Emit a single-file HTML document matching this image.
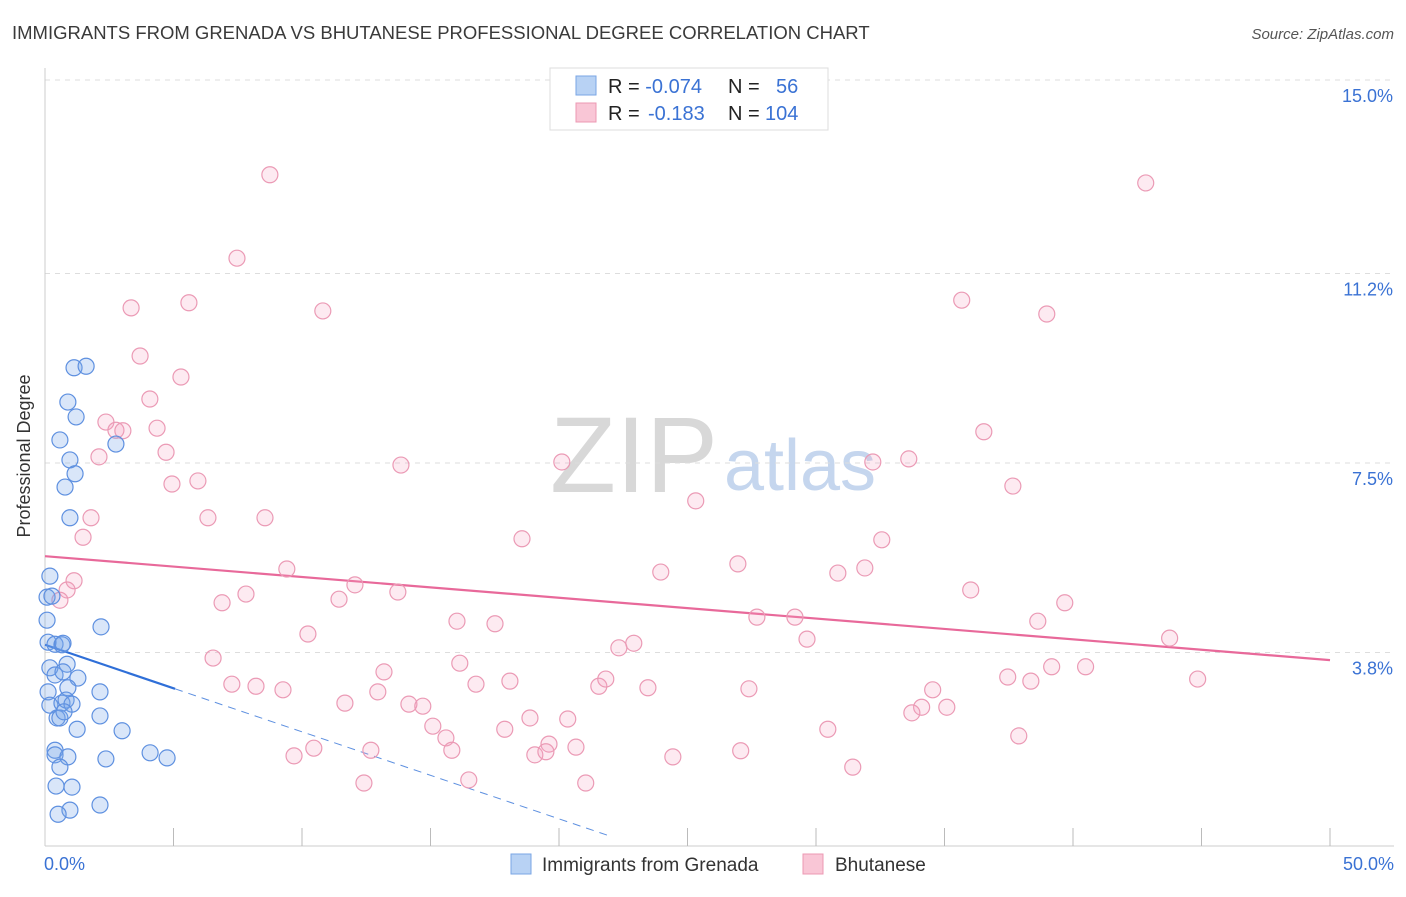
<!DOCTYPE html>
<html><head><meta charset="utf-8"><style>
body{margin:0;background:#fff;font-family:"Liberation Sans",sans-serif;}
svg text{font-family:"Liberation Sans",sans-serif;}
</style></head><body>
<svg id="chart" width="1406" height="892" viewBox="0 0 1406 892">
<text x="12" y="39" font-size="18.5" fill="#3a3a3a">IMMIGRANTS FROM GRENADA VS BHUTANESE PROFESSIONAL DEGREE CORRELATION CHART</text>
<text x="1394" y="39" font-size="15" fill="#555" font-style="italic" text-anchor="end">Source: ZipAtlas.com</text>
<text x="30" y="456" font-size="18" fill="#333" text-anchor="middle" transform="rotate(-90 30 456)">Professional Degree</text>
<text x="634" y="492" font-size="108" fill="#d8d8d8" font-family="Liberation Serif" text-anchor="middle">ZIP</text>
<text x="800" y="490" font-size="72" fill="#c5d6ee" text-anchor="middle">atlas</text>
<g id="grid"></g><g id="axes"></g><g id="lines"></g><g id="pts"></g>
<g>
<rect x="550" y="68" width="278" height="62" fill="#fff" stroke="#ddd"/>
<rect x="576" y="76" width="20" height="19" fill="#b8d2f4" stroke="#7aa6e4"/>
<rect x="576" y="103" width="20" height="19" fill="#f9c6d6" stroke="#ec98b3"/>
<text x="608" y="93" font-size="20" fill="#222">R = <tspan fill="#3a72d4">-0.074</tspan><tspan x="728">N = </tspan><tspan x="776" fill="#3a72d4">56</tspan></text>
<text x="608" y="120" font-size="20" fill="#222">R = <tspan x="648" fill="#3a72d4">-0.183</tspan><tspan x="728">N = </tspan><tspan x="765" fill="#3a72d4">104</tspan></text>
</g>
<g>
<rect x="511" y="854" width="20" height="20" fill="#b8d2f4" stroke="#7aa6e4"/>
<text x="542" y="871" font-size="19" fill="#333">Immigrants from Grenada</text>
<rect x="803" y="854" width="20" height="20" fill="#f9c6d6" stroke="#ec98b3"/>
<text x="835" y="871" font-size="19" fill="#333">Bhutanese</text>
</g>
</svg>
<script>
const yTicks=[3.8,7.5,11.2,15.0];
const yTickLabels=["3.8%","7.5%","11.2%","15.0%"];
const xTickLabels=["0.0%","50.0%"];
const blueX=[0.08,0.08,0.19,0.27,0.12,0.39,0.66,0.70,0.19,0.39,0.86,0.70,1.28,0.12,0.89,0.19,0.66,0.82,1.05,0.47,0.58,0.74,2.14,2.14,1.25,3.00,0.39,0.39,0.89,0.58,2.37,4.09,4.75,0.43,1.05,0.97,0.51,2.14,2.18,1.13,1.60,0.89,1.21,0.58,0.97,2.76,1.17,0.78,0.97];
const blueY=[4.43,4.88,5.29,4.90,4.00,3.96,3.95,3.98,3.50,3.36,3.57,3.42,3.30,3.03,3.11,2.77,2.81,2.87,2.79,2.52,2.52,2.64,3.03,2.56,2.30,2.27,1.89,1.80,1.76,1.56,1.72,1.84,1.74,1.19,1.17,0.72,0.64,0.82,4.30,9.36,9.39,8.69,8.40,7.95,7.56,7.87,7.29,7.03,6.43];
const pinkX=[8.75,7.47,3.35,5.60,10.81,3.70,5.29,4.08,2.37,2.76,3.03,4.36,2.10,4.71,4.94,5.95,1.79,1.48,6.34,8.56,13.85,20.11,25.32,18.56,32.21,33.61,36.53,37.66,32.56,35.67,38.98,42.83,1.13,0.86,0.58,9.41,6.89,7.82,12.06,11.44,13.73,23.96,26.96,30.85,31.90,36.02,39.68,10.23,16.03,17.51,6.54,7.27,8.21,9.26,11.67,12.95,13.19,16.14,16.77,18.09,14.16,14.70,15.09,15.60,15.83,17.89,18.87,20.34,19.61,20.66,19.06,19.49,21.55,21.82,22.33,22.91,23.46,27.70,29.18,29.65,27.39,38.63,43.76,37.46,38.36,39.17,40.49,44.85,34.54,34.11,33.73,35.09,9.69,10.46,12.68,12.41,16.49,21.04,24.43,27.07,30.46,31.43,37.89];
const pinkY=[13.13,11.50,10.53,10.63,10.47,9.59,9.18,8.75,8.30,8.14,8.13,8.18,7.62,7.71,7.09,7.15,6.43,6.05,6.43,6.43,7.46,7.52,6.76,6.02,7.52,7.58,8.11,7.05,6.00,10.68,10.41,12.97,5.20,5.02,4.82,5.43,4.77,4.94,5.12,4.84,4.98,5.37,5.53,5.35,5.45,5.02,4.77,4.16,4.41,4.36,3.69,3.18,3.14,3.07,2.81,3.03,3.42,3.59,3.18,3.24,2.79,2.75,2.36,2.13,1.89,2.30,2.52,2.50,2.01,1.95,1.80,1.86,3.14,3.28,3.89,3.98,3.11,4.49,4.49,4.06,3.09,4.41,4.08,3.32,3.24,3.52,3.52,3.28,3.07,2.73,2.62,2.73,1.78,1.93,1.89,1.25,1.31,1.25,1.76,1.88,2.30,1.56,2.17];
const blueFit=[3.95,-0.17,5.06,22];
const pinkFit=[5.68,-0.0406];
const NS="http://www.w3.org/2000/svg";
function sx(v){return 45+v*25.7;}
function sy(v){return 847-v*51.2;}
function mk(tag,attrs,parent){const e=document.createElementNS(NS,tag);for(const k in attrs)e.setAttribute(k,attrs[k]);document.getElementById(parent).appendChild(e);return e;}
let g;
g=mk('line',{x1:45,y1:80,x2:1394,y2:80,stroke:'#ddd','stroke-dasharray':'5,5'},'grid');


yTicks.forEach((t,i)=>{
 if(i<3){const l=mk('line',{x1:45,y1:sy(t),x2:1394,y2:sy(t),stroke:'#ddd','stroke-dasharray':'5,5'},'grid');
 
 }
 const tx=mk('text',{x:1393,y:(i<3?sy(t):80)+22,'font-size':18,fill:'#3a72d4','text-anchor':'end'},'axes');
 tx.textContent=yTickLabels[i];
 
 
});
g=mk('line',{x1:45,y1:68,x2:45,y2:846,stroke:'#ccc'},'axes');


g=mk('line',{x1:45,y1:846,x2:1394,y2:846,stroke:'#ccc'},'axes');


for(let i=1;i<=10;i++){const l=mk('line',{x1:sx(i*5),y1:828,x2:sx(i*5),y2:846,stroke:'#bbb'},'axes');
 
 }
g=mk('text',{x:44,y:870,'font-size':18,fill:'#3a72d4'},'axes');g.textContent=xTickLabels[0];


g=mk('text',{x:1394,y:870,'font-size':18,fill:'#3a72d4','text-anchor':'end'},'axes');g.textContent=xTickLabels[1];


pinkX.forEach((x,i)=>{const c=mk('circle',{cx:sx(x),cy:sy(pinkY[i]),r:8,fill:'rgba(244,160,190,0.22)',stroke:'#eb9ab5','stroke-width':1.2},'pts');
 
 });
blueX.forEach((x,i)=>{const c=mk('circle',{cx:sx(x),cy:sy(blueY[i]),r:8,fill:'rgba(120,165,235,0.28)',stroke:'#5e90e0','stroke-width':1.2},'pts');
 
 });
g=mk('line',{x1:sx(0),y1:sy(pinkFit[0]),x2:sx(50),y2:sy(pinkFit[0]+pinkFit[1]*50),stroke:'#e8699a','stroke-width':2.2},'lines');


g=mk('line',{x1:sx(0),y1:sy(blueFit[0]),x2:sx(blueFit[2]),y2:sy(blueFit[0]+blueFit[1]*blueFit[2]),stroke:'#2f6fd8','stroke-width':2.2},'lines');


g=mk('line',{x1:sx(blueFit[2]),y1:sy(blueFit[0]+blueFit[1]*blueFit[2]),x2:sx(blueFit[3]),y2:sy(blueFit[0]+blueFit[1]*blueFit[3]),stroke:'#5e90e0','stroke-width':1,'stroke-dasharray':'8,6'},'lines');


</script>
</body></html>
